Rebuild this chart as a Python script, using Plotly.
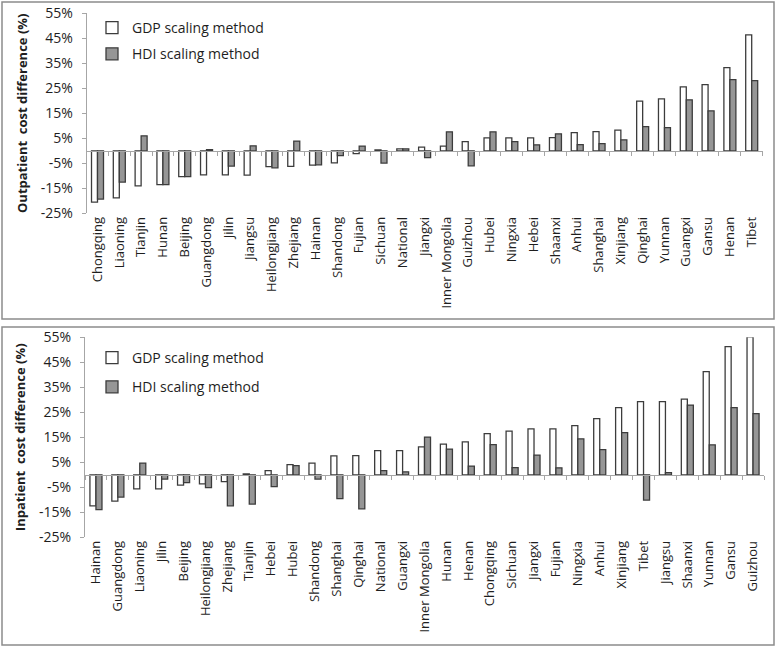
import plotly.graph_objects as go

# ---------------- data ----------------
top_cats = ["Chongqing", "Liaoning", "Tianjin", "Hunan", "Beijing", "Guangdong", "Jilin",
            "Jiangsu", "Heilongjiang", "Zhejiang", "Hainan", "Shandong", "Fujian", "Sichuan",
            "National", "Jiangxi", "Inner Mongolia", "Guizhou", "Hubei", "Ningxia", "Hebei",
            "Shaanxi", "Anhui", "Shanghai", "Xinjiang", "Qinghai", "Yunnan", "Guangxi",
            "Gansu", "Henan", "Tibet"]
top_gdp = [-20.5, -18.8, -14.0, -13.5, -10.3, -9.6, -9.6, -9.7, -6.3, -6.2, -5.7, -4.8, -1.1,
           0.4, 0.8, 1.5, 1.9, 3.7, 5.2, 5.2, 5.2, 5.3, 7.3, 7.7, 8.3, 19.9, 20.8, 25.6, 26.5,
           33.3, 46.4]
top_hdi = [-19.3, -12.5, 6.0, -13.5, -10.3, 0.5, -6.1, 2.0, -6.8, 3.9, -5.6, -1.9, 1.9, -4.9,
           0.8, -2.7, 7.6, -6.0, 7.6, 3.7, 2.4, 6.8, 2.5, 2.9, 4.4, 9.7, 9.3, 20.4, 16.0, 28.5,
           28.1]

bot_cats = ["Hainan", "Guangdong", "Liaoning", "Jilin", "Beijing", "Heilongjiang", "Zhejiang",
            "Tianjin", "Hebei", "Hubei", "Shandong", "Shanghai", "Qinghai", "National",
            "Guangxi", "Inner Mongolia", "Hunan", "Henan", "Chongqing", "Sichuan", "Jiangxi",
            "Fujian", "Ningxia", "Anhui", "Xinjiang", "Tibet", "Jiangsu", "Shaanxi", "Yunnan",
            "Gansu", "Guizhou"]
bot_gdp = [-12.4, -10.5, -5.6, -5.6, -4.1, -3.6, -2.7, 0.4, 1.7, 4.1, 4.7, 7.6, 7.7, 9.7, 9.7,
           11.2, 12.3, 13.2, 16.5, 17.5, 18.4, 18.4, 19.7, 22.5, 26.9, 29.3, 29.3, 30.3, 41.3,
           51.3, 55.2]
bot_hdi = [-13.9, -8.9, 4.7, -1.7, -3.1, -5.1, -12.4, -11.7, -4.7, 3.7, -1.7, -9.5, -13.6, 1.7,
           1.2, 15.1, 10.3, 3.5, 12.1, 2.9, 7.9, 2.8, 14.4, 10.1, 16.9, -10.1, 0.9, 27.9, 12.0,
           26.9, 24.5]

y_tickvals = [55, 45, 35, 25, 15, 5, -5, -15, -25]
y_ticktext = ["55%", "45%", "35%", "25%", "15%", "5%", "-5%", "-15%", "-25%"]
series_names = ["GDP scaling method", "HDI scaling method"]
top_title = "Outpatient  cost difference (%)"
bot_title = "Inpatient  cost difference (%)"

# ---------------- style ----------------
W, H = 777, 648
FONT = "Open Sans"
TXT = "#1e1e1e"
AX = "#a6a6a6"
EDGE = "#3c3c3c"
GDP_FILL = "#ffffff"
HDI_FILL = "#969696"
YMIN, YMAX = -25, 55


def px_x(p):
    return p / W


def px_y(p):
    return 1 - p / H


top_dom_x = [px_x(86.6), px_x(762.6)]
top_dom_y = [px_y(213.3), px_y(13.3)]
bot_dom_x = [px_x(85.0), px_x(764.0)]
bot_dom_y = [px_y(537.3), px_y(337.3)]

zero_frac = (0 - YMIN) / (YMAX - YMIN)

fig = go.Figure()

# top panel bars
fig.add_trace(go.Bar(x=top_cats, y=top_gdp, name=series_names[0], xaxis="x", yaxis="y",
                     marker=dict(color=GDP_FILL, line=dict(color=EDGE, width=1.3)),
                     legend="legend", legendgroup="g1"))
fig.add_trace(go.Bar(x=top_cats, y=top_hdi, name=series_names[1], xaxis="x", yaxis="y",
                     marker=dict(color=HDI_FILL, line=dict(color=EDGE, width=1.3)),
                     legend="legend", legendgroup="g2"))
# bottom panel bars
fig.add_trace(go.Bar(x=bot_cats, y=bot_gdp, name=series_names[0], xaxis="x2", yaxis="y2",
                     marker=dict(color=GDP_FILL, line=dict(color=EDGE, width=1.3)),
                     legend="legend2", legendgroup="b1"))
fig.add_trace(go.Bar(x=bot_cats, y=bot_hdi, name=series_names[1], xaxis="x2", yaxis="y2",
                     marker=dict(color=HDI_FILL, line=dict(color=EDGE, width=1.3)),
                     legend="legend2", legendgroup="b2"))

# invisible traces on the zero-line axes (x3 top, x4 bottom)
fig.add_trace(go.Scatter(x=top_cats, y=[None] * len(top_cats), xaxis="x3", yaxis="y",
                         showlegend=False, hoverinfo="skip"))
fig.add_trace(go.Scatter(x=bot_cats, y=[None] * len(bot_cats), xaxis="x4", yaxis="y2",
                         showlegend=False, hoverinfo="skip"))

xcommon = dict(type="category", showline=False, ticks="", showgrid=False, zeroline=False,
               tickangle=-90, automargin=False,
               tickfont=dict(family=FONT, size=13, color=TXT))
ycommon = dict(range=[YMIN, YMAX], tickvals=y_tickvals, ticktext=y_ticktext,
               showgrid=False, zeroline=False, showline=True, linecolor=AX, linewidth=1,
               ticks="outside", ticklen=4, tickcolor=AX, automargin=False,
               ticklabelstandoff=6,
               tickfont=dict(family=FONT, size=14, color=TXT))
zcommon = dict(type="category", showline=True, linecolor=AX, linewidth=1, ticks="outside",
               tickson="boundaries", ticklen=4, tickcolor=AX, showticklabels=False,
               showgrid=False, zeroline=False, anchor="free", automargin=False)

fig.update_layout(
    width=W, height=H,
    margin=dict(l=0, r=0, t=0, b=0, pad=0, autoexpand=False),
    paper_bgcolor="white", plot_bgcolor="rgba(0,0,0,0)",
    barmode="group", bargap=0.45, bargroupgap=0.0,
    font=dict(family=FONT, color=TXT),
    xaxis=dict(domain=top_dom_x, anchor="y", **xcommon),
    yaxis=dict(domain=top_dom_y, anchor="x",
               title=dict(text=top_title, font=dict(family=FONT, size=13, color=TXT,
                                                    weight="bold"), standoff=10),
               **ycommon),
    xaxis2=dict(domain=bot_dom_x, anchor="y2", **xcommon),
    yaxis2=dict(domain=bot_dom_y, anchor="x2",
                title=dict(text=bot_title, font=dict(family=FONT, size=13, color=TXT,
                                                     weight="bold"), standoff=10),
                **ycommon),
    xaxis3=dict(domain=top_dom_x, overlaying="x", matches="x",
                position=top_dom_y[0] + zero_frac * (top_dom_y[1] - top_dom_y[0]), **zcommon),
    xaxis4=dict(domain=bot_dom_x, overlaying="x2", matches="x2",
                position=bot_dom_y[0] + zero_frac * (bot_dom_y[1] - bot_dom_y[0]), **zcommon),
    legend=dict(x=px_x(92), y=px_y(12), xanchor="left", yanchor="top",
                bgcolor="rgba(0,0,0,0)", tracegroupgap=5,
                font=dict(family=FONT, size=14, color=TXT)),
    legend2=dict(x=px_x(92), y=px_y(342), xanchor="left", yanchor="top",
                 bgcolor="rgba(0,0,0,0)", tracegroupgap=8,
                 font=dict(family=FONT, size=14, color=TXT)),
    shapes=[
        dict(type="rect", xref="paper", yref="paper", x0=px_x(2), x1=px_x(774),
             y0=px_y(319), y1=px_y(2), line=dict(color="#8c8c8c", width=1.5)),
        dict(type="rect", xref="paper", yref="paper", x0=px_x(2), x1=px_x(774),
             y0=px_y(645), y1=px_y(327), line=dict(color="#8c8c8c", width=1.5)),
    ],
)

fig.write_html("out.html", config={"displayModeBar": False},
               post_script="document.body.style.margin='0';document.body.style.overflow='hidden';")
